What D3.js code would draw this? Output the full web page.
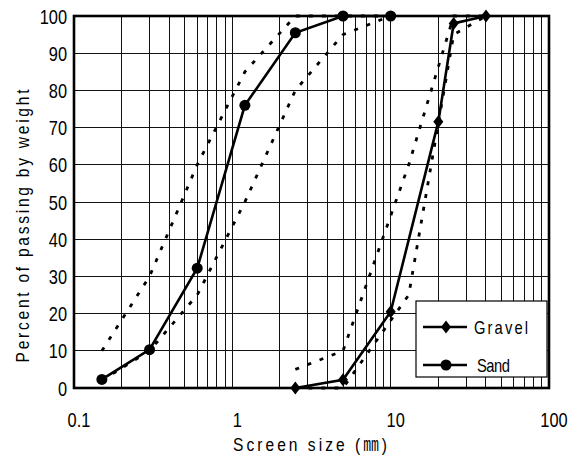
<!DOCTYPE html>
<html>
<head>
<meta charset="utf-8">
<script src="https://cdn.jsdelivr.net/npm/d3@7"></script>
<style>
  html, body { margin: 0; padding: 0; background: #fff; }
  svg { display: block; }
  text { font-family: "Liberation Sans", Arial, "Noto Sans CJK KR", sans-serif; fill: #000; }
</style>
</head>
<body>
<svg id="chart" width="573" height="459"></svg>
<script>
// ---- data ----
const sandSieves = [0.15, 0.3, 0.6, 1.2, 2.5, 5, 10];
const sandPassing = [2.3, 10.3, 32.2, 76, 95.5, 100, 100];
const sandUpperLimit = [10, 30, 60, 85, 100, 100, 100];
const sandLowerLimit = [2, 10, 25, 50, 80, 95, 100];

const gravelSieves = [2.5, 5, 10, 20, 25, 40];
const gravelPassing = [0, 2.2, 20.5, 71.6, 98, 100];
const gravelLimitSieves = [2.5, 5, 13, 25, 40];
const gravelUpperLimit = [5, 10, 60, 100, 100];
const gravelLowerLimit = [0, 0, 25, 95, 100];

const xTickValues = [0.1, 1, 10, 100];
const xTickLabels = ["0.1", "1", "10", "100"];
const yTickValues = [0, 10, 20, 30, 40, 50, 60, 70, 80, 90, 100];
const legendLabels = ["Gravel", "Sand"];
const xTitle = "Screen size (\u339C)";
const yTitle = "Percent of passing by weight";

// ---- layout ----
const L = 74, R = 549, T = 16, B = 388;
const SX = 0.82; // narrow glyph look
const svg = d3.select("#chart");
const x = d3.scaleLog().domain([0.1, 100]).range([L, R]);
const y = d3.scaleLinear().domain([0, 100]).range([B, T]);

function label(parent, px, py, str, size, anchor, width, rot) {
  const g = parent.append("g")
    .attr("transform", `translate(${px},${py})${rot ? " rotate(" + rot + ")" : ""} scale(${SX},1)`);
  const t = g.append("text").attr("x", 0).attr("y", 0)
    .attr("font-size", size).attr("text-anchor", anchor).text(str);
  if (width) t.attr("textLength", width / SX).attr("lengthAdjust", "spacing");
  return t;
}

// grid
const grid = svg.append("g");
grid.selectAll("line.v").data(x.ticks().filter(v => v > 0.1 && v < 100))
  .join("line")
  .attr("x1", d => x(d)).attr("x2", d => x(d))
  .attr("y1", T).attr("y2", B)
  .attr("stroke", "#111").attr("stroke-width", 1).attr("shape-rendering", "crispEdges");
grid.selectAll("line.h").data(yTickValues.filter(v => v > 0 && v < 100))
  .join("line")
  .attr("x1", L).attr("x2", R)
  .attr("y1", d => y(d)).attr("y2", d => y(d))
  .attr("stroke", "#111").attr("stroke-width", 1).attr("shape-rendering", "crispEdges");

const line = d3.line().x(d => x(d[0])).y(d => y(d[1]));
const zipv = (a, b) => a.map((v, i) => [v, b[i]]);

// limit curves (dashed)
[[sandSieves, sandUpperLimit], [sandSieves, sandLowerLimit],
 [gravelLimitSieves, gravelUpperLimit], [gravelLimitSieves, gravelLowerLimit]].forEach(([s, v]) => {
  svg.append("path").datum(zipv(s, v)).attr("d", line)
    .attr("fill", "none").attr("stroke", "#000").attr("stroke-width", 2.8)
    .attr("stroke-dasharray", "4,9");
});

// sample curves
const sandData = zipv(sandSieves, sandPassing);
const gravelData = zipv(gravelSieves, gravelPassing);
[sandData, gravelData].forEach(dd => {
  svg.append("path").datum(dd).attr("d", line)
    .attr("fill", "none").attr("stroke", "#000").attr("stroke-width", 2.6);
});

const diamond = (cx, cy) => `M${cx},${cy-6.5}L${cx+5},${cy}L${cx},${cy+6.5}L${cx-5},${cy}Z`;
svg.append("g").selectAll("circle").data(sandData).join("circle")
  .attr("cx", d => x(d[0])).attr("cy", d => y(d[1])).attr("r", 5.5).attr("fill", "#000");
svg.append("g").selectAll("path").data(gravelData).join("path")
  .attr("d", d => diamond(x(d[0]), y(d[1]))).attr("fill", "#000");

// border
svg.append("rect").attr("x", L).attr("y", T).attr("width", R - L).attr("height", B - T)
  .attr("fill", "none").attr("stroke", "#000").attr("stroke-width", 2.6);

// y tick labels
const yl = svg.append("g");
yTickValues.forEach(v => label(yl, 67, y(v) + 7.5, String(v), 20, "end"));

// x tick labels
const xl = svg.append("g");
xTickValues.forEach((v, i) => label(xl, x(v) + 5, 427, xTickLabels[i], 20, "middle"));

// axis titles
label(svg, 310, 451, xTitle, 19, "middle", 154);
label(svg, 29, 226, yTitle, 19, "middle", 273, -90);

// legend
const lg = svg.append("g");
lg.append("rect").attr("x", 416).attr("y", 301).attr("width", 131).attr("height", 76)
  .attr("fill", "#fff").attr("stroke", "#000").attr("stroke-width", 1.2);
const rows = [327, 365];
const legW = [54, 33];
rows.forEach((ry, i) => {
  lg.append("line").attr("x1", 423).attr("x2", 467).attr("y1", ry).attr("y2", ry)
    .attr("stroke", "#000").attr("stroke-width", 2.6);
  if (i === 0) lg.append("path").attr("d", diamond(446, ry)).attr("fill", "#000");
  else lg.append("circle").attr("cx", 446).attr("cy", ry).attr("r", 5.5).attr("fill", "#000");
  label(lg, i === 0 ? 474 : 477, ry + 6.5, legendLabels[i], 18, "start", legW[i]);
});
</script>
</body>
</html>
